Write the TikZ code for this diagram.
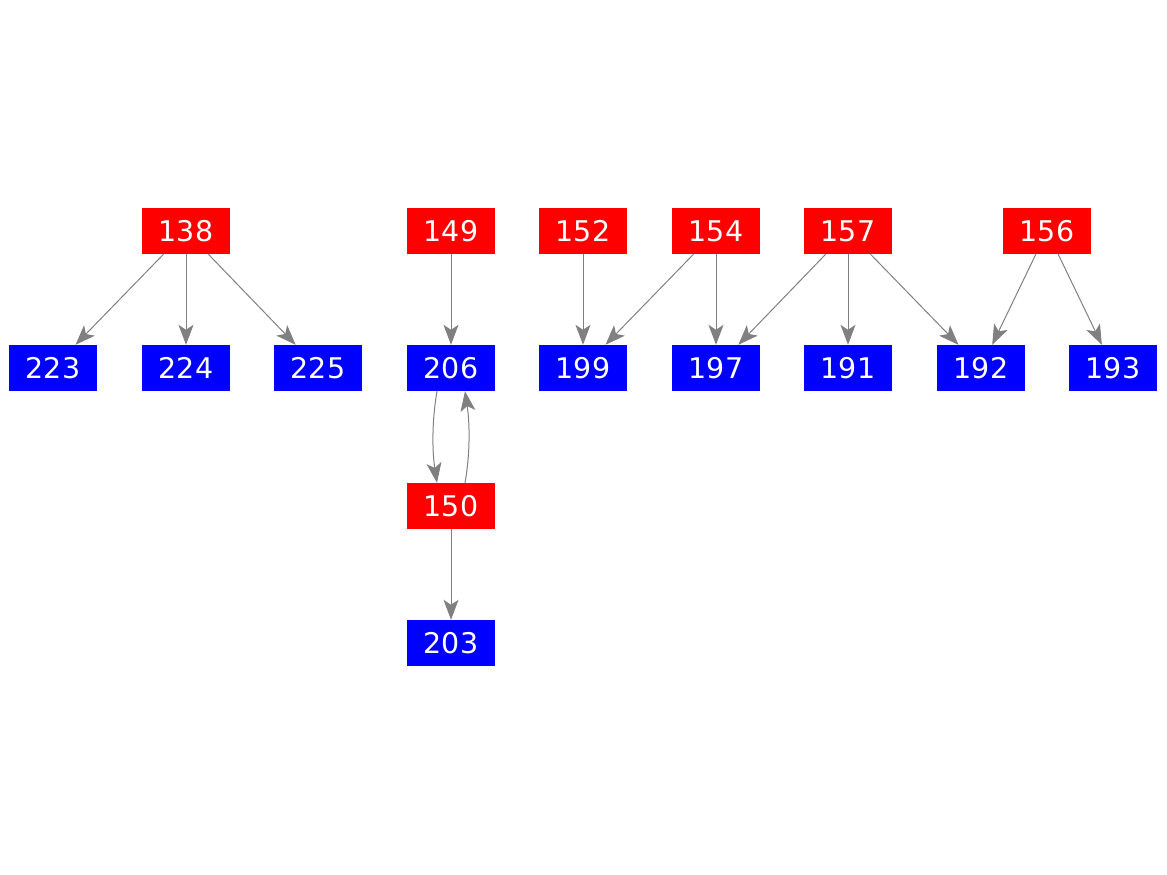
\documentclass[tikz,border=0pt]{standalone}
\usepackage{fontspec}
\setmainfont{DejaVu Sans}
\usetikzlibrary{arrows.meta}
\begin{document}
\begin{tikzpicture}[x=1pt,y=-1pt,
  box/.style={minimum width=88pt,minimum height=46pt,inner sep=0pt,text=white,font=\fontsize{28.5}{28.5}\selectfont},
  src/.style={box,fill=red},
  dst/.style={box,fill=blue},
  edge/.style={draw=gray,line width=1pt,-{Stealth[length=20pt,width=15pt,inset=5pt]}}]
\useasboundingbox (0,0) rectangle (1167,875);
\node[src] (n138) at (186,231) {138};
\node[src] (n149) at (451,231) {149};
\node[src] (n152) at (583,231) {152};
\node[src] (n154) at (716,231) {154};
\node[src] (n157) at (848,231) {157};
\node[src] (n156) at (1047,231) {156};
\node[dst] (n223) at (53,368) {223};
\node[dst] (n224) at (186,368) {224};
\node[dst] (n225) at (318,368) {225};
\node[dst] (n206) at (451,368) {206};
\node[dst] (n199) at (583,368) {199};
\node[dst] (n197) at (716,368) {197};
\node[dst] (n191) at (848,368) {191};
\node[dst] (n192) at (981,368) {192};
\node[dst] (n193) at (1113,368) {193};
\node[src] (n150) at (451,506) {150};
\node[dst] (n203) at (451,643) {203};
\draw[edge] (n138) -- (n223);
\draw[edge] (n138) -- (n224);
\draw[edge] (n138) -- (n225);
\draw[edge] (n149) -- (n206);
\draw[edge] (n152) -- (n199);
\draw[edge] (n154) -- (n199);
\draw[edge] (n154) -- (n197);
\draw[edge] (n157) -- (n197);
\draw[edge] (n157) -- (n191);
\draw[edge] (n157) -- (n192);
\draw[edge] (n156) -- (n192);
\draw[edge] (n156) -- (n193);
\draw[edge] (n206.south -| 437,0) .. controls (432,420) and (432,450) .. (n150.north -| 437,0);
\draw[edge] (n150.north -| 465,0) .. controls (470,455) and (470,425) .. (n206.south -| 465,0);
\draw[edge] (n150) -- (n203);
\end{tikzpicture}
\end{document}
